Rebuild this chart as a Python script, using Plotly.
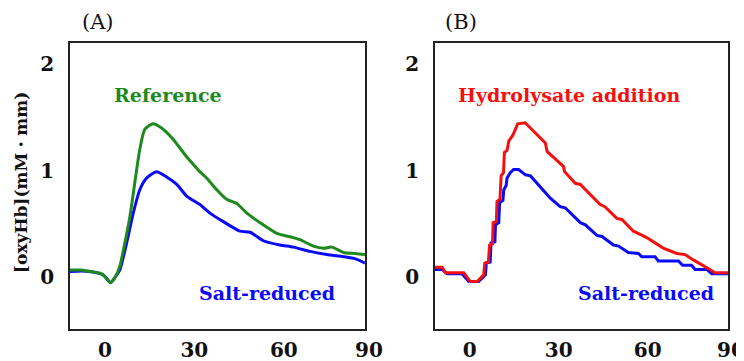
import plotly.graph_objects as go
from plotly.subplots import make_subplots

# ---- Panel A data ----
refA_x = [-11.7, -8, -5, -1.7, 0, 1.9, 3.5, 5.0, 6.7, 8.4, 10, 11.7, 13.4, 16.2, 18.5, 20.7, 23, 25.2,
          27.4, 29.6, 31.8, 34.1, 37.5, 40.8, 44.2, 47.6, 52.0, 57.6, 63.2, 65.4, 69.9, 73.3, 76.1,
          80.0, 84, 87.2]
refA_y = [0.065, 0.065, 0.05, 0.035, 0.003, -0.054, 0.0, 0.10, 0.32, 0.57, 0.88, 1.20, 1.39, 1.44,
          1.41, 1.36, 1.29, 1.21, 1.13, 1.06, 0.99, 0.93, 0.82, 0.73, 0.69, 0.60, 0.51, 0.41, 0.37,
          0.35, 0.29, 0.27, 0.28, 0.23, 0.22, 0.21]
saltA_x = [-11.7, -8, -5, -0.6, 1.9, 3.5, 5.0, 7.3, 9.5, 11.7, 14.0, 17.3, 20.7, 24.1, 27.4, 31.9,
           35.2, 39.7, 45.3, 48.7, 53.1, 58.7, 63.2, 68.8, 74.4, 80.0, 84, 87.2]
saltA_y = [0.05, 0.055, 0.05, 0.02, -0.054, 0.0, 0.066, 0.32, 0.60, 0.82, 0.93, 0.99, 0.94, 0.87,
           0.76, 0.68, 0.60, 0.52, 0.43, 0.42, 0.34, 0.30, 0.28, 0.24, 0.21, 0.19, 0.17, 0.13]

# ---- Panel B data ----
hydB_x = [-11.7, -9.3, -8.2, -2, 0.2, 2.5, 4.7, 5.1, 6.3, 6.7, 7.7, 7.9, 9.0, 9.2, 10.2, 10.6, 11.4,
          11.7, 12.6, 13.2, 14.5, 16.2, 18.7, 25.5, 26.1, 31.6, 32, 35.6, 37.3, 44, 45.6, 49.6, 51.3,
          55.2, 57.5, 59.7, 62.5, 65.3, 69.8, 72.6, 75.4, 78.8, 81, 82.7, 87.2]
hydB_y = [0.09, 0.09, 0.04, 0.04, -0.044, -0.044, 0.02, 0.13, 0.14, 0.30, 0.31, 0.51, 0.52, 0.71,
          0.73, 0.95, 0.98, 1.17, 1.19, 1.28, 1.33, 1.44, 1.45, 1.26, 1.18, 1.04, 0.99, 0.88, 0.87,
          0.68, 0.66, 0.55, 0.54, 0.43, 0.40, 0.37, 0.32, 0.27, 0.22, 0.21, 0.16, 0.11, 0.07, 0.04, 0.04]
saltB_x = [-11.7, -9.3, -7.6, -2.6, -0.3, 3.0, 5.3, 5.6, 6.9, 7.2, 8.5, 8.7, 9.8, 10.1, 11.2, 11.5,
           12.3, 12.6, 13.7, 14.8, 16.5, 18.8, 20.5, 27.2, 30.5, 32.2, 37.3, 39, 42.9, 44.6, 48.5,
           50.2, 53.5, 56.9, 58, 62.5, 63.6, 70.4, 71.8, 74.8, 76, 80, 81.6, 87.2]
saltB_y = [0.07, 0.07, 0.03, 0.03, -0.044, -0.044, 0.02, 0.13, 0.14, 0.32, 0.33, 0.49, 0.51, 0.70,
           0.72, 0.82, 0.86, 0.93, 0.98, 1.01, 1.01, 0.96, 0.95, 0.74, 0.66, 0.65, 0.51, 0.49, 0.39,
           0.38, 0.30, 0.29, 0.23, 0.22, 0.19, 0.19, 0.15, 0.15, 0.11, 0.11, 0.07, 0.07, 0.03, 0.03]

x_ticks = [0, 30, 60]
last_x_tick = "90"
y_ticks = [0, 1, 2]
x_range = [-11.7, 87.2]
y_range = [-0.49, 2.2]

GREEN = "#1E8A1E"
BLUE = "#0A0AF5"
RED = "#F51010"
SERIF = "DejaVu Serif"

# the page places the figure 8px in from the top-left corner (default body margin)
PAGE_OFF = 8
W, H = 744 - PAGE_OFF, 361 - PAGE_OFF

def px(v):
    return (v - PAGE_OFF) / W

def py(v):
    return 1 - (v - PAGE_OFF) / H

fig = make_subplots(rows=1, cols=2)

fig.add_trace(go.Scatter(x=saltA_x, y=saltA_y, mode="lines", line=dict(color=BLUE, width=3, shape="spline", smoothing=0.6)), 1, 1)
fig.add_trace(go.Scatter(x=refA_x, y=refA_y, mode="lines", line=dict(color=GREEN, width=3, shape="spline", smoothing=0.6)), 1, 1)
fig.add_trace(go.Scatter(x=saltB_x, y=saltB_y, mode="lines", line=dict(color=BLUE, width=3)), 1, 2)
fig.add_trace(go.Scatter(x=hydB_x, y=hydB_y, mode="lines", line=dict(color=RED, width=3)), 1, 2)

tickfont = dict(family=SERIF, size=20, color="#111", weight="bold")
axis_common = dict(showline=True, mirror=True, linecolor="#222", linewidth=1.5, showgrid=False,
                   zeroline=False, ticks="", tickfont=tickfont, automargin=False)
fig.update_xaxes(range=x_range, tickvals=x_ticks, ticklabelstandoff=2, **axis_common)
fig.update_yaxes(range=y_range, tickvals=y_ticks, ticklabelstandoff=10, **axis_common)

xdomA = [px(70), px(365)]
xdomB = [px(435), px(728.3)]
ydom = [py(329), py(43)]
fig.update_layout(
    xaxis=dict(domain=xdomA),
    xaxis2=dict(domain=xdomB),
    yaxis=dict(domain=ydom),
    yaxis2=dict(domain=ydom),
)

ann = []
# last x tick label (sits just past the axis end)
for xc in (369, 731):
    ann.append(dict(x=px(xc), y=py(349.5), xref="paper", yref="paper",
                    text=last_x_tick, showarrow=False, font=tickfont,
                    xanchor="center", yanchor="middle"))
# panel labels
ann.append(dict(x=px(98), y=py(22), xref="paper", yref="paper", text="(A)", showarrow=False,
                xanchor="center", yanchor="middle", font=dict(family=SERIF, size=21, color="#111")))
ann.append(dict(x=px(461.5), y=py(22), xref="paper", yref="paper", text="(B)", showarrow=False,
                xanchor="center", yanchor="middle", font=dict(family=SERIF, size=21, color="#111")))
# y axis title
ann.append(dict(x=px(21), y=py(183), xref="paper", yref="paper", text="<b>[oxyHb](mM・mm)</b>",
                xanchor="center", yanchor="middle",
                textangle=-90, showarrow=False, font=dict(family=SERIF, size=17, color="#111")))
# series labels
ann.append(dict(x=21.1, y=1.71, xref="x", yref="y", text="<b>Reference</b>", showarrow=False,
                font=dict(family=SERIF, size=19, color=GREEN)))
ann.append(dict(x=54.4, y=-0.15, xref="x", yref="y", text="<b>Salt-reduced</b>", showarrow=False,
                font=dict(family=SERIF, size=19, color=BLUE)))
ann.append(dict(x=33.5, y=1.71, xref="x2", yref="y2", text="<b>Hydrolysate addition</b>", showarrow=False,
                font=dict(family=SERIF, size=19, color=RED)))
ann.append(dict(x=59.3, y=-0.15, xref="x2", yref="y2", text="<b>Salt-reduced</b>", showarrow=False,
                font=dict(family=SERIF, size=19, color=BLUE)))

fig.update_layout(
    width=W, height=H,
    margin=dict(l=0, r=0, t=0, b=0, autoexpand=False),
    paper_bgcolor="white", plot_bgcolor="white",
    showlegend=False,
    annotations=ann,
    font=dict(family=SERIF),
)

fig.write_html("out.html")
